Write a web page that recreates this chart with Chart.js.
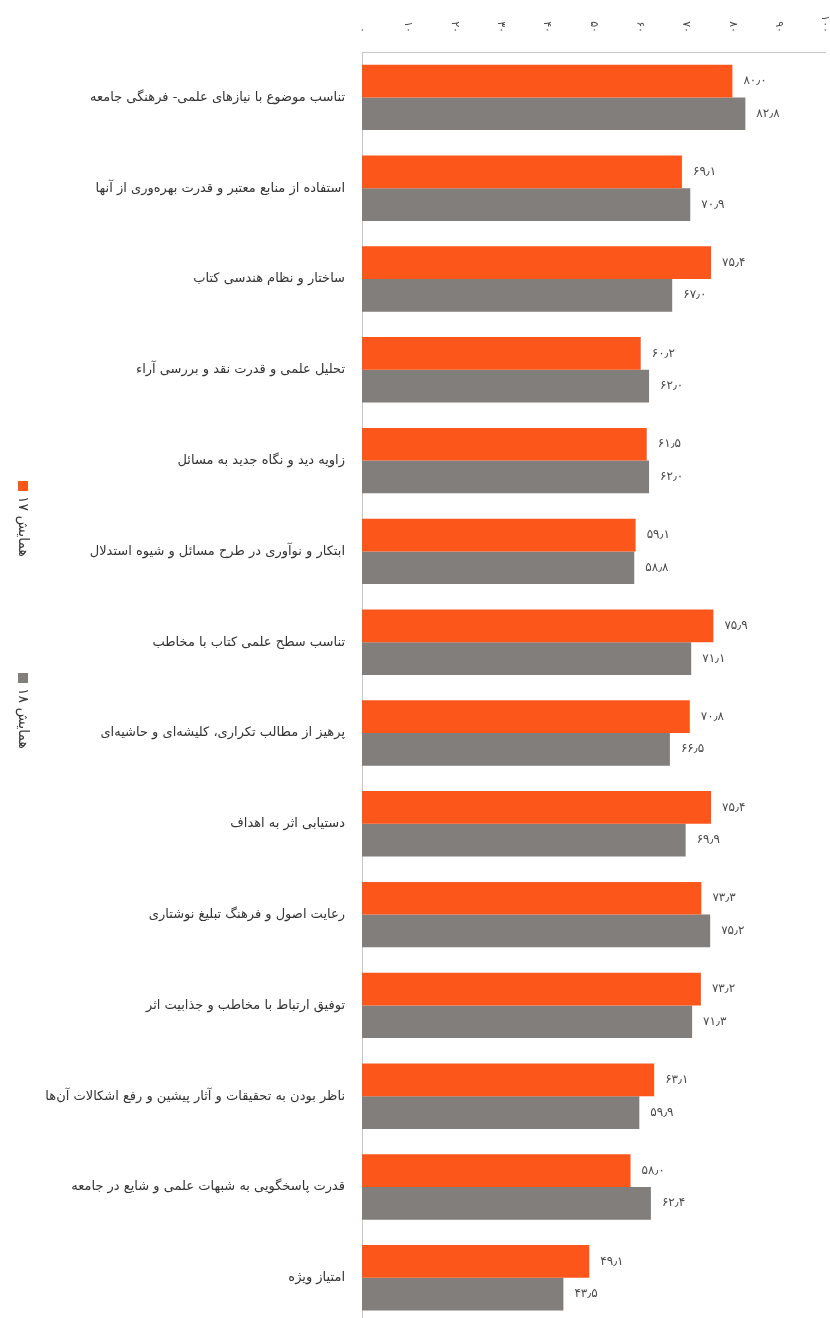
<!DOCTYPE html>
<html lang="fa">
<head>
<meta charset="utf-8">
<title>مقایسه همایش ۱۷ و ۱۸</title>
<script src="https://cdn.jsdelivr.net/npm/chart.js@4.4.0/dist/chart.umd.min.js"></script>
<style>
  html, body { margin: 0; padding: 0; background: #fff; overflow: hidden; }
</style>
</head>
<body>
<canvas id="chart" width="830" height="1348"></canvas>
<script>
// شاخص‌های ارزیابی
const categories = [
  'تناسب موضوع با نیازهای علمی- فرهنگی جامعه',
  'استفاده از منابع معتبر و قدرت بهره‌وری از آنها',
  'ساختار و نظام هندسی کتاب',
  'تحلیل علمی و قدرت نقد و بررسی آراء',
  'زاویه دید و نگاه جدید به مسائل',
  'ابتکار و نوآوری در طرح مسائل و شیوه استدلال',
  'تناسب سطح علمی کتاب با مخاطب',
  'پرهیز از مطالب تکراری، کلیشه‌ای و حاشیه‌ای',
  'دستیابی اثر به اهداف',
  'رعایت اصول و فرهنگ تبلیغ نوشتاری',
  'توفیق ارتباط با مخاطب و جذابیت اثر',
  'ناظر بودن به تحقیقات و آثار پیشین و رفع اشکالات آن‌ها',
  'قدرت پاسخگویی به شبهات علمی و شایع در جامعه',
  'امتیاز ویژه'
];

const series17 = [80.0, 69.1, 75.4, 60.2, 61.5, 59.1, 75.9, 70.8, 75.4, 73.3, 73.2, 63.1, 58.0, 49.1];
const series18 = [82.8, 70.9, 67.0, 62.0, 62.0, 58.8, 71.1, 66.5, 69.9, 75.2, 71.3, 59.9, 62.4, 43.5];

const tickValues = [0, 10, 20, 30, 40, 50, 60, 70, 80, 90, 100];
const seriesNames = ['همایش ۱۷', 'همایش ۱۸'];
const seriesColors = ['#fd561b', '#817e7c'];

const FONT = '"DejaVu Sans", "Noto Sans", sans-serif';

// تبدیل ارقام به فارسی
function toPersian(str) {
  return String(str).replace(/\d/g, d => '۰۱۲۳۴۵۶۷۸۹'[d]);
}
function formatValue(v) {
  return toPersian(v.toFixed(1)).replace('.', '٫');
}

// برچسب مقدار کنار هر میله
const valueLabels = {
  id: 'valueLabels',
  afterDatasetsDraw(chart) {
    const ctx = chart.ctx;
    ctx.save();
    ctx.font = '12px ' + FONT;
    ctx.letterSpacing = '2px';
    ctx.fillStyle = '#4a4a4a';
    ctx.textAlign = 'left';
    ctx.textBaseline = 'middle';
    chart.data.datasets.forEach((ds, i) => {
      chart.getDatasetMeta(i).data.forEach((bar, j) => {
        ctx.fillText(formatValue(ds.data[j]), bar.x + 11, bar.y);
      });
    });
    ctx.restore();
  }
};

// اعداد محور بالا، چرخیده
const topTicks = {
  id: 'topTicks',
  afterDraw(chart) {
    const ctx = chart.ctx;
    const xs = chart.scales.x;
    ctx.save();
    ctx.font = '11px ' + FONT;
    ctx.letterSpacing = '1px';
    ctx.fillStyle = '#4a4a4a';
    ctx.textAlign = 'right';
    ctx.textBaseline = 'middle';
    tickValues.forEach(v => {
      ctx.save();
      ctx.translate(xs.getPixelForValue(v), 33);
      ctx.rotate(Math.PI / 2);
      ctx.fillText(toPersian(v), 0, 0);
      ctx.restore();
    });
    ctx.restore();
  }
};

// راهنمای عمودی سمت چپ
const sideLegend = {
  id: 'sideLegend',
  afterDraw(chart) {
    const ctx = chart.ctx;
    const starts = [481, 673];
    ctx.save();
    ctx.font = '14px ' + FONT;
    ctx.textBaseline = 'middle';
    ctx.textAlign = 'left';
    seriesNames.forEach((name, i) => {
      ctx.save();
      ctx.translate(23, starts[i]);
      ctx.rotate(Math.PI / 2);
      ctx.fillStyle = seriesColors[i];
      ctx.fillRect(0, -5, 10, 10);
      ctx.fillStyle = '#3a3a3a';
      ctx.fillText(name, 15, 0);
      ctx.restore();
    });
    ctx.restore();
  }
};

new Chart(document.getElementById('chart'), {
  type: 'bar',
  data: {
    labels: categories,
    datasets: [
      { label: seriesNames[0], data: series17, backgroundColor: seriesColors[0] },
      { label: seriesNames[1], data: series18, backgroundColor: seriesColors[1] }
    ]
  },
  options: {
    indexAxis: 'y',
    responsive: false,
    animation: false,
    layout: { padding: { top: 0, right: 5, bottom: 7, left: 0 } },
    datasets: { bar: { categoryPercentage: 0.72, barPercentage: 1 } },
    plugins: {
      legend: { display: false },
      tooltip: { enabled: false }
    },
    scales: {
      x: {
        position: 'top',
        min: 0,
        max: 100,
        grid: { display: false, drawTicks: false },
        border: { display: true, color: '#c6c6c6', width: 1 },
        ticks: { display: false },
        afterFit(s) { s.height = 52; }
      },
      y: {
        grid: { display: false, drawTicks: false },
        border: { display: true, color: '#c6c6c6', width: 1 },
        ticks: {
          color: '#333',
          font: { family: FONT, size: 13 },
          padding: 17,
          autoSkip: false
        },
        afterFit(s) { s.width = 362; }
      }
    }
  },
  plugins: [valueLabels, topTicks, sideLegend]
});
</script>
</body>
</html>
